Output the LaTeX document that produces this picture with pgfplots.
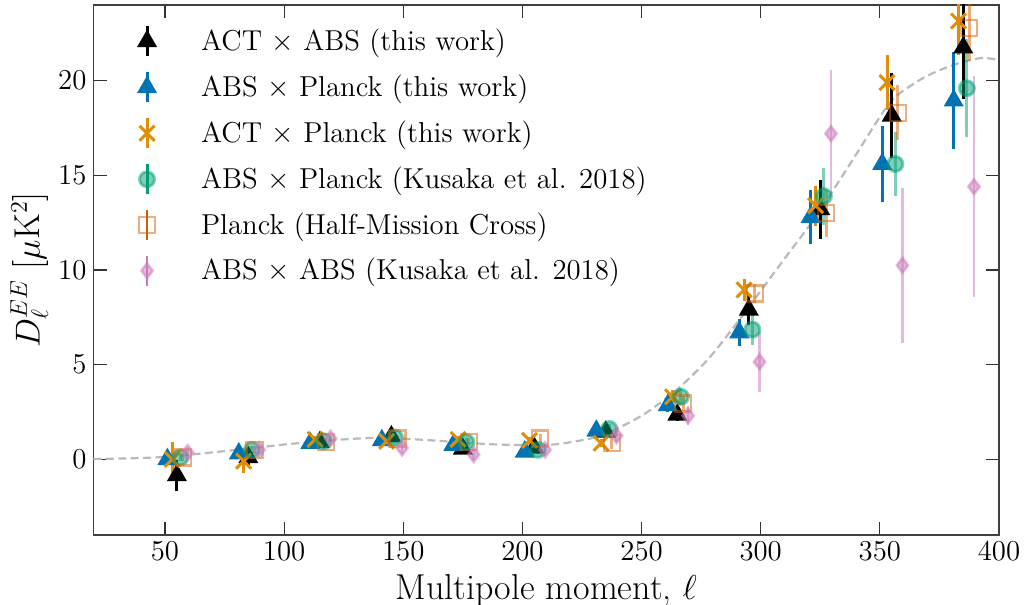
\documentclass[border=0pt]{standalone}
\usepackage{pgfplots}
\pgfplotsset{compat=1.18}
\definecolor{cbBlue}{HTML}{0173B2}
\definecolor{cbOrange}{HTML}{DE8F05}
\definecolor{cbGreen}{HTML}{029E73}
\definecolor{cbRed}{HTML}{D55E00}
\definecolor{cbPink}{HTML}{CC78BC}
\begin{document}
\begin{tikzpicture}
\begin{axis}[
  scale only axis, width=452.75pt, height=265pt,
  xmin=20, xmax=400, ymin=-4, ymax=24,
  xtick={50,100,...,400}, ytick={0,5,...,20},
  tick align=inside, major tick length=6.5pt,
  tick style={line width=0.6pt, black!80},
  axis line style={line width=0.8pt, black!75},
  ticklabel style={font=\fontsize{14}{17}\selectfont},
  xlabel={Multipole moment, $\ell$},
  ylabel={$D_\ell^{EE}$ [$\mu$K$^2$]},
  label style={font=\fontsize{18}{21}\selectfont},
  ylabel shift=-2pt,
  legend cell align=left,
  legend style={draw=none, fill=none, at={(0.03,0.971)}, anchor=north west,
    font=\fontsize{14.4}{17}\selectfont, row sep=6.5pt},
  legend image code/.code={
    \path[draw=none, fill=none] (0pt,0pt) -- (35pt,0pt);
    \draw[#1, mark=none, solid] (10pt,-7.5pt) -- (10pt,7.5pt);
    \draw[#1] plot coordinates {(10pt,0pt)};
  },
  error bars/error bar style={line width=1.5pt, solid},
]
% theory curve
\addplot[forget plot, no markers, dashed, dash pattern=on 4pt off 2.2pt, line width=1.1pt, black!27, smooth] coordinates {
(20,0.02) (35,0.05) (49,0.12) (65,0.3) (80,0.5) (91,0.65) (100,0.78) (112,0.92)
(125,1.05) (135,1.12) (145,1.12) (162,1.0) (175,0.88) (190,0.78) (205,0.75) (216,0.82)
(232,1.2) (241,1.7) (250,2.3) (258,3.0) (266,3.8) (278,5.3) (290,7.2) (300,8.9)
(310,10.6) (323,12.8) (338,15.7) (354,18.8) (365,19.9) (374,20.5) (385,21.0) (393,21.2) (400,21.1)};
% ACT x ABS
\addplot[only marks, black, mark=triangle*, mark size=4.3pt, line width=1.5pt,
  error bars/.cd, y dir=both, y explicit, error mark=none,
  error bar style={black}] coordinates {
(55,-0.85) +- (0,0.8) (85,0.1) +- (0,0.45) (115,0.9) +- (0,0.2) (145,1.2) +- (0,0.2)
(175,0.55) +- (0,0.2) (205,0.6) +- (0,0.2) (235,1.45) +- (0,0.25) (265,2.35) +- (0,0.35)
(295,7.9) +- (0,0.8) (325,13.2) +- (0,1.55) (355,18.15) +- (0,2.25) (385,21.75) +- (0,2.7)};
\addlegendentry{ACT $\times$ ABS (this work)}
% ABS x Planck
\addplot[only marks, cbBlue, mark=triangle*, mark size=4.3pt, line width=1.5pt,
  error bars/.cd, y dir=both, y explicit, error mark=none,
  error bar style={cbBlue}] coordinates {
(51,0.0) +- (0,0.3) (81,0.3) +- (0,0.3) (111,0.85) +- (0,0.2) (141,1.0) +- (0,0.2)
(171,0.75) +- (0,0.2) (201,0.4) +- (0,0.2) (231,1.5) +- (0,0.25) (261,2.85) +- (0,0.35)
(291,6.7) +- (0,0.7) (321,12.8) +- (0,1.45) (351,15.6) +- (0,2.0) (381,18.95) +- (0,2.55)};
\addlegendentry{ABS $\times$ Planck (this work)}
% ACT x Planck
\addplot[only marks, cbOrange, mark=x, mark size=5.3pt, line width=1.5pt,
  error bars/.cd, y dir=both, y explicit, error mark=none,
  error bar style={cbOrange}] coordinates {
(53,0.0) +- (0,0.9) (83,-0.1) +- (0,0.6) (113,1.05) +- (0,0.2) (143,0.95) +- (0,0.2)
(173,1.05) +- (0,0.2) (203,1.0) +- (0,0.2) (233,0.85) +- (0,0.2) (263,3.3) +- (0,0.35)
(293,8.95) +- (0,0.6) (323,13.4) +- (0,1.05) (353,19.9) +- (0,1.45) (383,23.15) +- (0,1.8)};
\addlegendentry{ACT $\times$ Planck (this work)}
% ABS x Planck Kusaka
\addplot[only marks, cbGreen, mark=*, mark size=3.75pt, line width=1.5pt,
  mark options={fill=cbGreen, fill opacity=0.5, draw opacity=0.5},
  error bars/.cd, y dir=both, y explicit, error mark=none,
  error bar style={cbGreen, opacity=0.5}] coordinates {
(56.5,0.1) +- (0,0.2) (86.5,0.5) +- (0,0.2) (116.5,0.95) +- (0,0.2) (146.5,1.15) +- (0,0.2)
(176.5,0.9) +- (0,0.2) (206.5,0.5) +- (0,0.2) (236.5,1.6) +- (0,0.25) (266.5,3.3) +- (0,0.45)
(296.5,6.85) +- (0,0.8) (326.5,13.9) +- (0,1.5) (356.5,15.6) +- (0,1.7) (386.5,19.6) +- (0,2.6)};
\addlegendentry{ABS $\times$ Planck (Kusaka et al. 2018)}
% Planck half-mission
\addplot[only marks, cbRed, mark=square, mark size=4pt, line width=1.2pt,
  mark options={draw opacity=0.5, fill=none},
  error bars/.cd, y dir=both, y explicit, error mark=none,
  error bar style={cbRed, opacity=0.5}] coordinates {
(57.5,0.1) +- (0,0.2) (87.5,0.5) +- (0,0.2) (117.5,0.9) +- (0,0.2) (147.5,1.1) +- (0,0.2)
(177.5,0.9) +- (0,0.2) (207.5,1.1) +- (0,0.25) (237.5,0.85) +- (0,0.3) (267.5,2.95) +- (0,0.4)
(297.5,8.75) +- (0,0.5) (327.5,13.0) +- (0,1.25) (357.5,18.3) +- (0,1.45) (387.5,22.8) +- (0,1.75)};
\addlegendentry{Planck (Half-Mission Cross)}
% ABS x ABS
\addplot[only marks, cbPink, mark=diamond*, mark size=3.75pt, line width=1.3pt,
  mark options={fill=cbPink, fill opacity=0.5, draw opacity=0.5},
  error bars/.cd, y dir=both, y explicit, error mark=none,
  error bar style={cbPink, opacity=0.5, line width=1.3pt}] coordinates {
(59.5,0.35) +- (0,0.2) (89.5,0.5) +- (0,0.2) (119.5,1.1) +- (0,0.2) (149.5,0.6) +- (0,0.25)
(179.5,0.25) +- (0,0.3) (209.5,0.5) +- (0,0.3) (239.5,1.25) +- (0,0.35) (269.5,2.3) +- (0,0.5)
(299.5,5.15) +- (0,1.6) (329.5,17.2) +- (0,3.35) (359.5,10.25) +- (0,4.1) (389.5,14.4) +- (0,5.85)};
\addlegendentry{ABS $\times$ ABS (Kusaka et al. 2018)}
\end{axis}
\pgfresetboundingbox
\path ([xshift=-46.75pt, yshift=-34.5pt]current axis.south west) rectangle ([xshift=13pt, yshift=2.5pt]current axis.north east);
\end{tikzpicture}
\end{document}
